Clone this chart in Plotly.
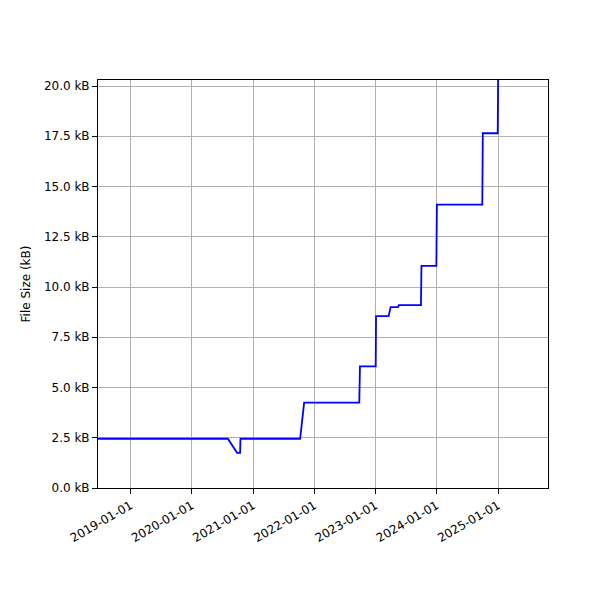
import plotly.graph_objects as go

dates = ["2018-06-20","2020-08-03","2020-09-27","2020-10-15","2020-10-17","2021-10-08","2021-11-01",
         "2022-09-26","2022-09-30","2023-01-02","2023-01-04","2023-03-20","2023-04-01","2023-05-15","2023-05-20",
         "2023-09-29","2023-10-02","2023-12-30","2024-01-02","2024-09-29","2024-10-02","2024-12-30","2025-01-02"]
sizes = [2.45,2.45,1.75,1.75,2.45,2.45,4.25,
         4.25,6.05,6.05,8.55,8.55,9.0,9.0,9.1,
         9.1,11.05,11.05,14.1,14.1,17.65,17.65,21.0]
yticks = [0,2.5,5,7.5,10,12.5,15,17.5,20]
xticks = ["2019-01-01","2020-01-01","2021-01-01","2022-01-01","2023-01-01","2024-01-01","2025-01-01"]

fig = go.Figure(go.Scatter(x=dates, y=sizes, mode="lines", line=dict(color="blue", width=1.8)))
ax = dict(showline=True, linecolor="black", linewidth=1, mirror=True, showgrid=True, gridcolor="#b0b0b0",
          ticks="outside", tickcolor="black", zeroline=False, automargin=False)
fig.update_layout(
    width=600, height=600, plot_bgcolor="white", paper_bgcolor="white", showlegend=False,
    margin=dict(l=90, r=60, t=72, b=120),
    font=dict(family="DejaVu Sans", size=12, color="black"),
    xaxis=dict(**ax, range=["2018-06-20","2025-10-26"], tickvals=xticks, ticktext=xticks, tickangle=-30),
    yaxis=dict(**ax, range=[0,20.3], tickvals=yticks, ticktext=[f"{v:.1f} kB" for v in yticks],
               title=dict(text="File Size (kB)", font=dict(size=12), standoff=10)),
)
fig.write_html("out.html")
